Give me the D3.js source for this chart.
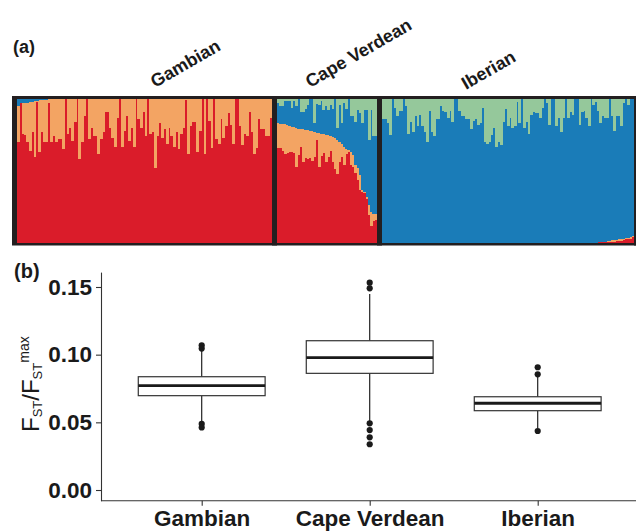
<!DOCTYPE html>
<html>
<head>
<meta charset="utf-8">
<script src="https://cdn.jsdelivr.net/npm/d3@7/dist/d3.min.js"></script>
<style>
  body { margin: 0; background: #fff; }
  svg { display: block; font-family: "Liberation Sans", Arial, sans-serif; }
</style>
</head>
<body>
<div id="chart"></div>
<script>
const width = 636, height = 531;

// ---- panel (a): ancestry proportions, one bar per individual ----
const groups = ["Gambian", "Cape Verdean", "Iberian"];
const components = ["red", "orange", "blue", "green"];
const componentColors = ["#da1c2a", "#f3a463", "#1a7cb8", "#95c89b"];

// Gambian: red share and small blue share (rest is orange)
const gambianRed = [0.70, 0.97, 0.76, 0.75, 0.70, 0.64, 0.77, 0.60, 0.98, 0.63, 0.77, 0.70, 0.70, 0.97, 0.70, 0.74, 0.70, 0.72,
  0.72, 0.65, 1.0, 0.76, 0.80, 0.71, 0.84, 1.0, 0.58, 0.70, 0.88, 1.0, 0.72, 0.80, 0.74, 0.74, 0.62, 0.72, 0.77, 0.91,
  0.91, 0.80, 0.73, 0.67, 0.87, 1.0, 0.67, 0.78, 0.88, 0.71, 0.80, 0.67, 1.0, 0.86, 0.80, 0.91,
  0.74, 1.0, 0.76, 0.77, 0.52, 0.74, 0.83, 0.73, 0.79, 0.69, 0.80, 0.74, 0.67, 0.77, 0.65, 0.76, 0.80, 0.99,
  0.62, 0.81, 0.84, 0.84, 0.63, 0.78, 1.0, 0.62, 1.0, 0.85, 0.66, 1.0, 0.72, 0.69, 0.86, 0.73, 0.81, 0.90,
  0.82, 0.69, 1.0, 1.0, 0.81, 0.68, 0.76, 0.74, 0.91, 0.77, 0.62, 0.66, 0.86, 0.79, 0.79, 0.74, 0.74, 0.87];
const gambianBlue = [0.05, 0.03, 0.03, 0.025, 0.025, 0.02, 0.02, 0.015, 0.015, 0.01, 0.01, 0.01, 0.005];

// Cape Verdean: red, orange and green shares (rest is blue)
const capeRed = [0.663, 0.658, 0.640, 0.619, 0.628, 0.633, 0.635, 0.628, 0.526, 0.612, 0.670, 0.565, 0.593, 0.581, 0.588,
  0.572, 0.600, 0.712, 0.526, 0.605, 0.623, 0.565, 0.600, 0.640, 0.565, 0.512, 0.481, 0.565, 0.598, 0.542, 0.616,
  0.630, 0.542, 0.530, 0.484, 0.437, 0.367, 0.356, 0.344, 0.309, 0.193, 0.116, 0.151, 0.158];
const capeOrange = [0.170, 0.170, 0.186, 0.204, 0.191, 0.181, 0.174, 0.177, 0.274, 0.183, 0.123, 0.226, 0.193, 0.203, 0.193,
  0.205, 0.172, 0.055, 0.237, 0.155, 0.135, 0.188, 0.149, 0.104, 0.170, 0.214, 0.235, 0.137, 0.090, 0.128, 0.035,
  0.015, 0.091, 0.082, 0.058, 0.082, 0.105, 0.011, 0.012, 0.010, 0.070, 0.100, 0.049, 0.042];
const capeGreen = [0.03, 0.05, 0.05, 0.016, 0.016, 0.016, 0.063, 0.016, 0.05, 0, 0.093, 0.093, 0.07, 0.04, 0, 0, 0.167,
  0.033, 0.04, 0.016, 0.079, 0.051, 0.074, 0.04, 0.07, 0, 0.202, 0.04, 0.167, 0.028, 0.07, 0, 0.116, 0.116, 0.163,
  0.079, 0.098, 0.167, 0.079, 0.074, 0.284, 0.074, 0.26, 0.26];

// Iberian: green share (rest is blue), plus a little red/orange in the last individuals
const iberianGreen = [0.14, 0.14, 0.17, 0.25, 0, 0.06, 0.12, 0.08, 0.08, 0, 0.05, 0.24, 0.16, 0.23, 0.12, 0.19, 0.11, 0.19,
  0.23, 0.30, 0.08, 0.23, 0.26, 0.14, 0.14, 0.05, 0.08, 0.09, 0.13, 0.08, 0.16, 0, 0, 0.08, 0.12, 0.12, 0.14, 0.14,
  0.21, 0.15, 0.14, 0.18, 0.17, 0.06, 0.30, 0.31, 0.30, 0.25, 0.20, 0.33, 0.30, 0.32, 0.16, 0.07, 0.19,
  0.13, 0.20, 0.19, 0.02, 0.17, 0, 0.20, 0.16, 0.24, 0.11, 0.09, 0.10, 0.10, 0.13, 0.06, 0, 0.03, 0.18, 0, 0,
  0.19, 0.13, 0.23, 0.13, 0, 0.13, 0.09, 0.11, 0, 0, 0.18, 0.09, 0.08, 0.13, 0.19, 0, 0.04, 0.02, 0.08, 0.17,
  0.12, 0.13, 0.13, 0, 0.12, 0.22, 0.12, 0.12, 0.19, 0.03, 0, 0.04, 0, 0];
const iberianTailRed = [0.005, 0.005, 0.005, 0.005, 0.008, 0.008, 0.01, 0.01, 0.012, 0.015, 0.015, 0.02, 0.025, 0.025, 0.025, 0.04];
const iberianTailOrange = [0, 0, 0.005, 0.005, 0.005, 0.005, 0.008, 0.008, 0.01, 0.01, 0.012, 0.01, 0.01, 0.012, 0.02, 0.01];

// ---- panel (b): FST / FST max boxplots ----
const q1 = [0.0697, 0.0862, 0.0586];
const median = [0.0771, 0.0978, 0.0641];
const q3 = [0.0837, 0.1103, 0.0689];
const whiskerLow = [0.0505, 0.0505, 0.0458];
const whiskerHigh = [0.1035, 0.1448, 0.0842];
const outliers = [
  [0.1068, 0.1045, 0.0488, 0.0462],
  [0.1532, 0.1490, 0.0493, 0.0443, 0.0389, 0.0338],
  [0.0907, 0.0855, 0.0436]
];
const yTicks = [0, 0.05, 0.10, 0.15];

// build rows for the stack
const gambianRows = gambianRed.map((r, i) => {
  const b = gambianBlue[i] || 0;
  return {red: r, blue: b, green: 0, orange: Math.max(0, 1 - r - b)};
});
const capeRows = capeRed.map((r, i) => ({
  red: r, orange: capeOrange[i], green: capeGreen[i],
  blue: Math.max(0, 1 - r - capeOrange[i] - capeGreen[i])
}));
const tailStart = iberianGreen.length - iberianTailRed.length;
const iberianRows = iberianGreen.map((g, i) => {
  const r = i >= tailStart ? iberianTailRed[i - tailStart] : 0;
  const o = i >= tailStart ? iberianTailOrange[i - tailStart] : 0;
  return {red: r, orange: o, green: g, blue: 1 - r - o - g};
});
const groupRows = [gambianRows, capeRows, iberianRows];

const svg = d3.select("#chart").append("svg")
    .attr("width", width)
    .attr("height", height);

const frameColor = "#231f20";
const groupExtents = [[17, 272], [277, 377], [382, 634]];
const yA = d3.scaleLinear().domain([0, 1]).range([243, 99]);
const color = d3.scaleOrdinal().domain(components).range(componentColors);
const stack = d3.stack().keys(components);

// dark frame behind the bars
svg.append("rect")
    .attr("x", 12).attr("y", 96)
    .attr("width", 624).attr("height", 149.5)
    .attr("fill", frameColor);

groupRows.forEach((rows, gi) => {
  const x = d3.scaleBand().domain(d3.range(rows.length)).range(groupExtents[gi]);
  const layers = stack(rows);
  const g = svg.append("g").attr("shape-rendering", "crispEdges");
  g.selectAll("g")
    .data(layers)
    .enter().append("g")
      .attr("fill", d => color(d.key))
    .selectAll("rect")
    .data(d => d.map((v, i) => ({v, i})))
    .enter().append("rect")
      .attr("x", d => x(d.i))
      .attr("width", x.bandwidth() + 0.5)
      .attr("y", d => yA(d.v[1]))
      .attr("height", d => Math.max(0, yA(d.v[0]) - yA(d.v[1])));
});

// group separators and right border on top of the bars
[[272, 5], [377, 5], [634, 2]].forEach(([sx, sw]) => {
  svg.append("rect").attr("x", sx).attr("y", 96).attr("width", sw).attr("height", 149.5).attr("fill", frameColor);
});

// rotated population labels
const labelPos = [[155, 88], [310, 88], [466, 90]];
svg.selectAll(".pop-label")
  .data(groups)
  .enter().append("text")
    .attr("class", "pop-label")
    .attr("transform", (d, i) => `translate(${labelPos[i][0]},${labelPos[i][1]}) rotate(-30)`)
    .attr("font-size", 18)
    .attr("font-weight", "bold")
    .attr("fill", "#1a1a1a")
    .text(d => d);

svg.append("text").attr("x", 13).attr("y", 53)
    .attr("font-size", 18).attr("font-weight", "bold").attr("fill", "#1a1a1a").text("(a)");
svg.append("text").attr("x", 14).attr("y", 278)
    .attr("font-size", 20).attr("font-weight", "bold").attr("fill", "#1a1a1a").text("(b)");

// ---- panel (b) ----
const yB = d3.scaleLinear().domain([-0.0079, 0.161]).range([500.7, 272.1]);
const xBox = d3.scalePoint().domain(groups).range([117.7, 621.7]).padding(0.5);
const boxWidth = xBox.step() * 0.755;

const yAxis = svg.append("g")
    .attr("transform", "translate(101,0)")
    .call(d3.axisLeft(yB).tickValues(yTicks).tickFormat(d3.format(".2f")).tickSize(5).tickPadding(4).tickSizeOuter(0));
const xAxis = svg.append("g")
    .attr("transform", "translate(0,500.7)")
    .call(d3.axisBottom(xBox).tickSize(5).tickPadding(4).tickSizeOuter(0));
xAxis.select(".domain").remove();
xAxis.append("line").attr("x1", 101).attr("x2", 636).attr("stroke", "#333");

[yAxis, xAxis].forEach(ax => {
  ax.selectAll("path, line").attr("stroke", "#333").attr("stroke-width", 1.1);
  ax.selectAll("text")
    .attr("font-family", "'Liberation Sans', Arial, sans-serif")
    .attr("font-size", 22.5)
    .attr("font-weight", "bold")
    .attr("fill", "#1a1a1a");
});

// y axis title: F_ST / F_ST^max
const yTitle = svg.append("text")
    .attr("transform", "translate(39,432) rotate(-90)")
    .attr("font-size", 24)
    .attr("fill", "#1a1a1a");
yTitle.append("tspan").text("F");
yTitle.append("tspan").attr("font-size", 13).attr("dy", 3).text("ST");
yTitle.append("tspan").attr("dy", -3).text("/F");
yTitle.append("tspan").attr("font-size", 13).attr("dy", 3).text("ST");
yTitle.append("tspan").attr("font-size", 14).attr("dy", -13).text("max");

const boxes = svg.selectAll(".box")
  .data(groups)
  .enter().append("g")
    .attr("class", "box")
    .attr("transform", d => `translate(${xBox(d)},0)`);

boxes.append("line")
    .attr("y1", (d, i) => yB(whiskerHigh[i])).attr("y2", (d, i) => yB(q3[i]))
    .attr("stroke", "#222").attr("stroke-width", 1.2);
boxes.append("line")
    .attr("y1", (d, i) => yB(q1[i])).attr("y2", (d, i) => yB(whiskerLow[i]))
    .attr("stroke", "#222").attr("stroke-width", 1.2);
boxes.append("rect")
    .attr("x", -boxWidth / 2).attr("width", boxWidth)
    .attr("y", (d, i) => yB(q3[i]))
    .attr("height", (d, i) => yB(q1[i]) - yB(q3[i]))
    .attr("fill", "#fff").attr("stroke", "#333").attr("stroke-width", 1.2);
boxes.append("line")
    .attr("x1", -boxWidth / 2).attr("x2", boxWidth / 2)
    .attr("y1", (d, i) => yB(median[i])).attr("y2", (d, i) => yB(median[i]))
    .attr("stroke", "#1a1a1a").attr("stroke-width", 2.8);
boxes.selectAll("circle")
  .data((d, i) => outliers[i])
  .enter().append("circle")
    .attr("cy", d => yB(d))
    .attr("r", 3.1)
    .attr("fill", "#1a1a1a");
</script>
</body>
</html>
